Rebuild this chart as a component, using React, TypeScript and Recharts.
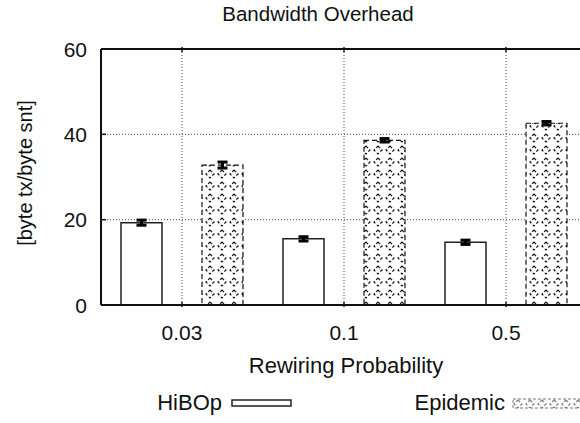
import React from 'react';
import { BarChart, Bar, XAxis, YAxis, CartesianGrid, ErrorBar } from 'recharts';

const categories = ['0.03', '0.1', '0.5'];
const hibop = [19.3, 15.5, 14.7];
const hibopErr = [0.6, 0.5, 0.5];
const epidemic = [32.8, 38.6, 42.6];
const epidemicErr = [0.7, 0.4, 0.4];
const yTicks = [0, 20, 40, 60];

const data = categories.map((c, i) => ({
  cat: c,
  hibop: hibop[i],
  hibopErr: hibopErr[i],
  epidemic: epidemic[i],
  epidemicErr: epidemicErr[i],
}));

const font = '"Liberation Sans", Arial, sans-serif';

const YTick = ({ x, y, payload }: any) => (
  <g>
    <text x={x} y={y} dy={7.5} textAnchor="end" fontSize={21} fontFamily={font} fill="#111">{payload.value}</text>
    <line x1={x + 14} x2={x + 19} y1={y} y2={y} stroke="#111" strokeWidth={1.5} />
  </g>
);

const XTick = ({ x, y, payload }: any) => (
  <g>
    <text x={x} y={y} dy={32.5} textAnchor="middle" fontSize={21} fontFamily={font} fill="#111">{payload.value}</text>
    <line x1={x} x2={x} y1={y} y2={y - 5} stroke="#111" strokeWidth={1.5} />
  </g>
);

const TopTick = ({ x, y }: any) => (
  <line x1={x} x2={x} y1={y} y2={y + 5} stroke="#111" strokeWidth={1.5} />
);

// diamond lattice with dashed strokes, like the gnuplot fill
const hatch = (id: string, color: string) => (
  <pattern id={id} width="12" height="12" patternUnits="userSpaceOnUse">
    <rect width="12" height="12" fill="#fff" />
    <path d="M6 2 L10 6 L6 10 L2 6 Z" fill="none" stroke={color} strokeWidth="1.2" strokeDasharray="3 2" />
  </pattern>
);

export default function App() {
  return (
    <div style={{ position: 'absolute', left: 0, top: 0, width: 580, height: 423, overflow: 'hidden', background: '#fff', fontFamily: font, lineHeight: 1, color: '#111' }}>
      <div style={{ position: 'absolute', left: 168, width: 300, top: 4, textAlign: 'center', fontSize: 20.5 }}>
        Bandwidth Overhead
      </div>
      <div style={{ position: 'absolute', left: 25, top: 173, transform: 'translate(-50%, -50%) rotate(-90deg)', whiteSpace: 'nowrap', fontSize: 20 }}>
        [byte tx/byte snt]
      </div>
      <div style={{ position: 'absolute', left: 196, width: 300, top: 355, textAlign: 'center', fontSize: 22 }}>
        Rewiring Probability
      </div>
      <div style={{ position: 'absolute', left: 0, top: 0 }}>
        <BarChart
          width={600}
          height={423}
          data={data}
          margin={{ top: 48, right: 13, left: 0, bottom: 78 }}
          barSize={41}
          barGap={40}
          barCategoryGap={20}
        >
          <defs>{hatch('epi', '#111')}</defs>
          <CartesianGrid stroke="#444" strokeDasharray="1 2" horizontal vertical />
          <XAxis
            dataKey="cat"
            height={40}
            axisLine={{ stroke: '#111', strokeWidth: 2 }}
            tickLine={false}
            tickSize={0}
            tick={<XTick />}
            interval={0}
          />
          <XAxis
            dataKey="cat"
            xAxisId="top"
            orientation="top"
            height={1}
            axisLine={{ stroke: '#111', strokeWidth: 2 }}
            tickLine={false}
            tickSize={0}
            tick={<TopTick />}
            interval={0}
          />
          <YAxis
            width={101}
            domain={[0, 60]}
            ticks={yTicks}
            axisLine={{ stroke: '#111', strokeWidth: 2 }}
            tickLine={false}
            tickSize={0}
            tickMargin={14}
            tick={<YTick />}
          />
          <Bar dataKey="hibop" name="HiBOp" fill="#fff" stroke="#222" strokeWidth={1.5} isAnimationActive={false}>
            <ErrorBar dataKey="hibopErr" width={5} stroke="#000" strokeWidth={3} />
          </Bar>
          <Bar dataKey="epidemic" name="Epidemic" fill="url(#epi)" stroke="#111" strokeWidth={1.2} strokeDasharray="5 3" isAnimationActive={false}>
            <ErrorBar dataKey="epidemicErr" width={5} stroke="#000" strokeWidth={3} />
          </Bar>
        </BarChart>
      </div>
      <div style={{ position: 'absolute', left: 0, width: 222, top: 392, textAlign: 'right', fontSize: 22 }}>HiBOp</div>
      <svg width={62} height={10} style={{ position: 'absolute', left: 231, top: 398 }}>
        <rect x={1} y={2} width={59} height={6} fill="#fff" stroke="#222" strokeWidth={1.5} />
      </svg>
      <div style={{ position: 'absolute', left: 300, width: 205, top: 392, textAlign: 'right', fontSize: 22 }}>Epidemic</div>
      <svg width={70} height={12} style={{ position: 'absolute', left: 512, top: 398 }}>
        <defs>{hatch('epiLeg', '#777')}</defs>
        <rect x={1} y={1} width={68} height={9} fill="url(#epiLeg)" stroke="#777" strokeWidth={1} strokeDasharray="3 2" />
      </svg>
    </div>
  );
}
